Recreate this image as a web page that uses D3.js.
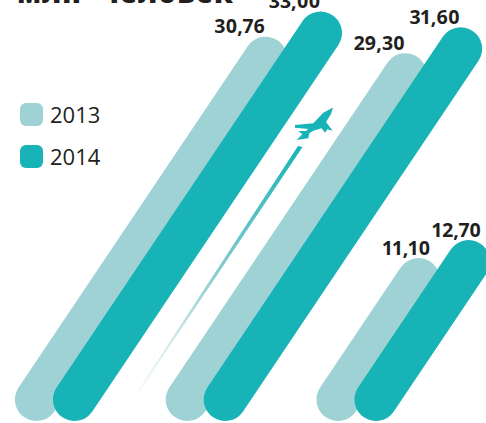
<!DOCTYPE html>
<html><head><meta charset="utf-8">
<script src="https://cdn.jsdelivr.net/npm/d3@7/dist/d3.min.js"></script>
<style>html,body{margin:0;padding:0;background:#fff;overflow:hidden}svg{display:block}</style>
</head><body><div id="c"></div>
<script>
const titleWords = ["млн", "человек"];
const groups = ["A", "B", "C"];
const seriesNames = ["2013", "2014"];
const values2013 = [30.76, 29.30, 11.10];
const values2014 = [33.00, 31.60, 12.70];
const labels2013 = ["30,76", "29,30", "11,10"];
const labels2014 = ["33,00", "31,60", "12,70"];
const colors = ["#9ed2d4", "#17b3b7"];

const W = 486, H = 423, sw = 43;
const font = "'Open Sans', sans-serif";
const svg = d3.select("#c").append("svg").attr("width", W).attr("height", H);

// bars slant: the value runs along a diagonal, so it has an x and a y scale
const y = d3.scaleLinear().domain([0, 33]).range([404.5, 33]);
const run = d3.scaleLinear().domain([0, 33]).range([-3.4, 246]);
const baseValue = y.invert(399.5);
const gx = d3.scalePoint().domain(groups).range([36.5, 338]);
const offset = d3.scalePoint().domain(seriesNames).range([0, 38]);
const labelNudge = d3.scaleOrdinal().domain(groups).range([0, 0, 14]);

const defs = svg.append("defs");
const grad = defs.append("linearGradient").attr("id", "trail")
  .attr("gradientUnits", "userSpaceOnUse")
  .attr("x1", 301).attr("y1", 146).attr("x2", 130).attr("y2", 404);
grad.append("stop").attr("offset", 0).attr("stop-color", "#17b3b7");
grad.append("stop").attr("offset", 0.5).attr("stop-color", "#8accce");
grad.append("stop").attr("offset", 0.75).attr("stop-color", "#cfeaea");
grad.append("stop").attr("offset", 1).attr("stop-color", "#ffffff");

// title, cropped by the top edge
const title = svg.append("g").attr("font-family", font).attr("font-weight", 800)
  .attr("font-size", 28).attr("fill", "#231f20");
title.append("text").attr("x", 17).attr("y", 3).attr("letter-spacing", 1).text(titleWords[0]);
title.append("text").attr("x", 100).attr("y", 3).attr("letter-spacing", 1).text(titleWords[1]);

// plane trail and plane
svg.append("path").attr("fill", "url(#trail)")
  .attr("d", "M298,146L302.5,147L131,404L129,404Z");
svg.append("path").attr("fill", "#17b3b7")
  .attr("d", "M333,107.5L331,114L326,122L332.7,130.7L327.3,129.3L325,132.7L321.7,128.3L313.3,130.7L309.3,133.3L308.3,138.3L296.7,140L302.3,134.3L298.3,131L306,131L308.3,129L295,127.7L295,125L313.3,123.3L323.3,112.7Z");

// bars
[values2013, values2014].forEach((vals, s) => {
  const name = seriesNames[s];
  svg.append("g").selectAll("line").data(vals).join("line")
    .attr("x1", (d, i) => gx(groups[i]) + offset(name) + run(baseValue))
    .attr("y1", y(baseValue))
    .attr("x2", (d, i) => gx(groups[i]) + offset(name) + run(d))
    .attr("y2", d => y(d))
    .attr("stroke", colors[s]).attr("stroke-width", sw).attr("stroke-linecap", "round");
});

// value labels
[[values2013, labels2013], [values2014, labels2014]].forEach(([vals, labs], s) => {
  const name = seriesNames[s];
  svg.append("g").selectAll("text").data(vals).join("text")
    .attr("x", (d, i) => gx(groups[i]) + offset(name) + run(d) - 26 + labelNudge(groups[i]))
    .attr("y", d => y(d) - 25)
    .attr("text-anchor", "middle")
    .attr("font-family", font).attr("font-weight", 700).attr("font-size", 19.5)
    .style("font-feature-settings", "'pnum'")
    .attr("fill", "#231f20")
    .text((d, i) => labs[i]);
});

// legend
const legendY = d3.scalePoint().domain(seriesNames).range([103, 145]);
const leg = svg.append("g").selectAll("g").data(seriesNames).join("g");
leg.append("rect").attr("x", 20).attr("y", d => legendY(d))
  .attr("width", 23).attr("height", 23).attr("rx", 6)
  .attr("fill", (d, i) => colors[i]);
leg.append("text").attr("x", 50).attr("y", d => legendY(d) + 20)
  .attr("font-family", font).attr("font-size", 22).attr("fill", "#231f20").text(d => d);
</script></body></html>
